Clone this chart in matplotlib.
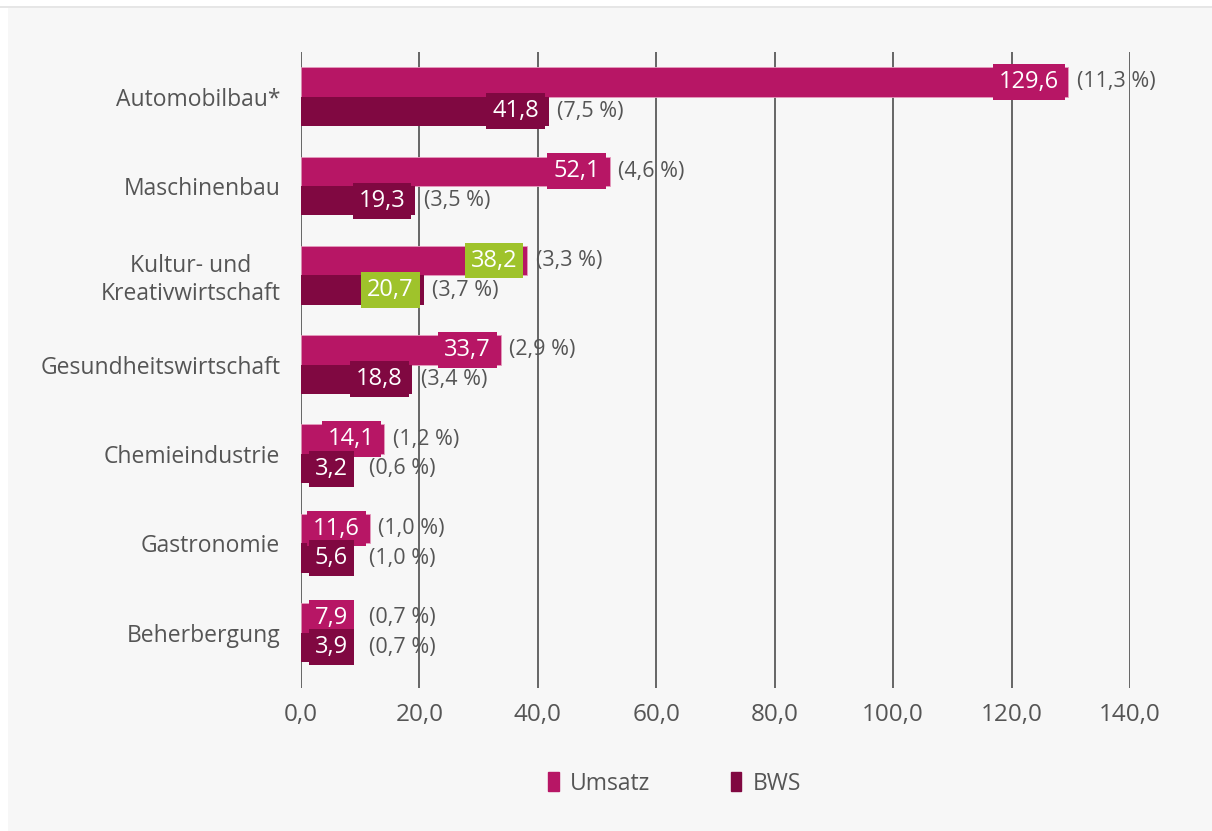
import matplotlib.pyplot as plt
import matplotlib
from matplotlib.patches import Rectangle, Patch
import numpy as np

# data
branchen = ['Automobilbau*', 'Maschinenbau', 'Kultur- und\nKreativwirtschaft',
            'Gesundheitswirtschaft', 'Chemieindustrie', 'Gastronomie', 'Beherbergung']
umsatz = [129.6, 52.1, 38.2, 33.7, 14.1, 11.6, 7.9]
bws = [41.8, 19.3, 20.7, 18.8, 3.2, 5.6, 3.9]
umsatz_pct = ['(11,3 %)', '(4,6 %)', '(3,3 %)', '(2,9 %)', '(1,2 %)', '(1,0 %)', '(0,7 %)']
bws_pct = ['(7,5 %)', '(3,5 %)', '(3,7 %)', '(3,4 %)', '(0,6 %)', '(1,0 %)', '(0,7 %)']
highlight = 'Kultur- und\nKreativwirtschaft'
x_ticks = [0, 20, 40, 60, 80, 100, 120, 140]

c_umsatz = '#b71665'
c_bws = '#800841'
c_green = '#9fc32b'
c_text = '#555555'

matplotlib.rcParams['font.family'] = ['Open Sans', 'DejaVu Sans']

fig = plt.figure(figsize=(12.12, 8.31), dpi=100, facecolor='white')
# gray panel + thin top line
fig.patches.append(Rectangle((8/1212, 0), 1, (831-8)/831, transform=fig.transFigure,
                             facecolor='#f7f7f7', edgecolor='none', zorder=-10))
fig.patches.append(Rectangle((0, (831-8)/831), 1, 2/831, transform=fig.transFigure,
                             facecolor='#e6e6e6', edgecolor='none', zorder=-9))

ax = fig.add_axes([301/1212, 1-688/831, (1130-301)/1212, (688-52)/831])
ax.set_facecolor('none')

n = len(branchen)
y = np.arange(n)[::-1]
h = 0.33

ax.barh(y + h/2, umsatz, height=h, color=c_umsatz, edgecolor='#e59bbd', linewidth=0.6, zorder=3)
ax.barh(y - h/2, bws, height=h, color=c_bws, zorder=3)

# white value in a coloured box at the bar end (boxes of small bars start near 0)
def value_label(val, yy, box_color):
    txt = '{:.1f}'.format(val).replace('.', ',')
    if val < 10:
        ax.annotate(txt, (0, yy), xytext=(10, 0), textcoords='offset points',
                    ha='left', va='center', color='white', fontsize=17, zorder=5,
                    bbox=dict(boxstyle='square,pad=0.25', fc=box_color, ec='none'))
        return 10.0
    ax.annotate(txt, (val, yy), xytext=(-7, 0), textcoords='offset points',
                ha='right', va='center', color='white', fontsize=17, zorder=5,
                bbox=dict(boxstyle='square,pad=0.25', fc=box_color, ec='none'))
    return val

for i, name in enumerate(branchen):
    col_u = c_green if name == highlight else c_umsatz
    col_b = c_green if name == highlight else c_bws
    end_u = value_label(umsatz[i], y[i] + h/2, col_u)
    end_b = value_label(bws[i], y[i] - h/2, col_b)
    ax.annotate(umsatz_pct[i], (end_u, y[i] + h/2), xytext=(6, 0), textcoords='offset points',
                ha='left', va='center', color=c_text, fontsize=15.5, zorder=4)
    ax.annotate(bws_pct[i], (end_b, y[i] - h/2), xytext=(6, 0), textcoords='offset points',
                ha='left', va='center', color=c_text, fontsize=15.5, zorder=4)

ax.set_xlim(0, 140)
ax.set_ylim(-0.62, 6.5)
ax.set_xticks(x_ticks)
ax.set_xticklabels(['{:.1f}'.format(v).replace('.', ',') for v in x_ticks])
ax.set_yticks(y)
ax.set_yticklabels(branchen, multialignment='center')
ax.tick_params(axis='both', length=0, labelcolor=c_text)
ax.tick_params(axis='y', pad=15, labelsize=16.5)
ax.tick_params(axis='x', pad=11, labelsize=17.5)
for s in ax.spines.values():
    s.set_visible(False)
ax.grid(axis='x', color='#4d4d4d', linewidth=1.2, zorder=1)
ax.set_axisbelow(True)

handles = [Patch(color=c_umsatz, label='Umsatz'), Patch(color=c_bws, label='BWS')]
fig.legend(handles=handles, loc='center', bbox_to_anchor=(0.5565, 0.057), ncol=2,
           frameon=False, fontsize=16.5, handlelength=0.45, handleheight=0.9,
           handletextpad=0.5, columnspacing=3.5, labelcolor=c_text)

plt.savefig('out.png', dpi=100, facecolor=fig.get_facecolor())
